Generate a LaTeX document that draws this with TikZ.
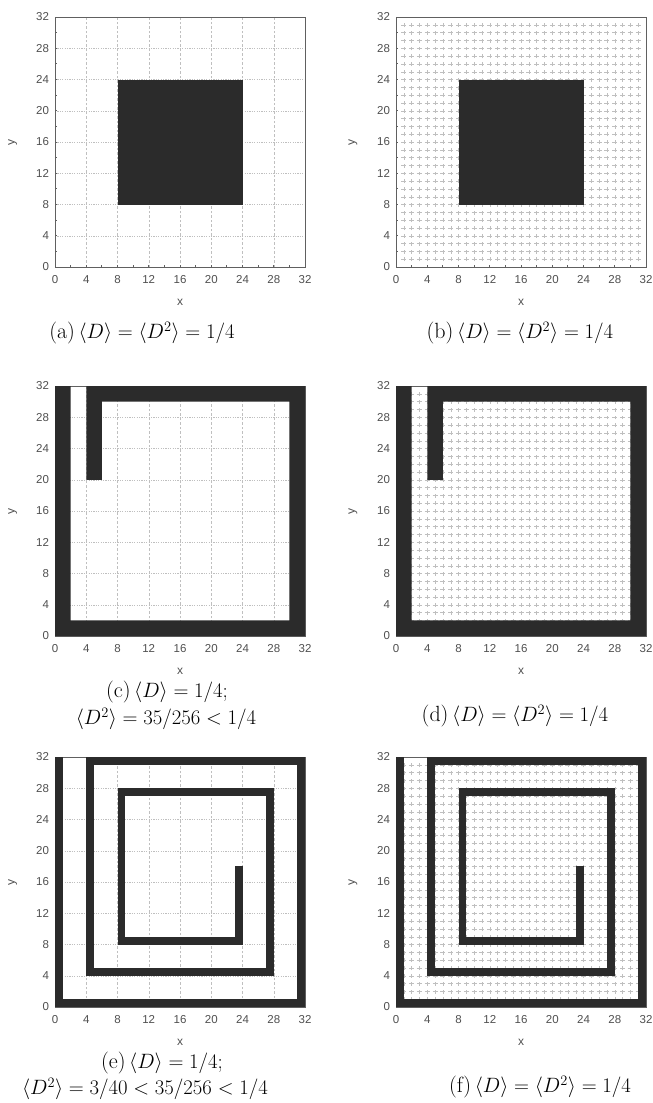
\documentclass[tikz,border=0pt]{standalone}
\usepackage{fontspec}
\newfontfamily\ticksf{Liberation Sans}
\definecolor{wall}{HTML}{2B2B2B}
\definecolor{framec}{HTML}{606060}
\definecolor{tickc}{HTML}{505050}
\tikzset{
  ticklab/.style={font=\ticksf\fontsize{11.5}{13}\selectfont, text=tickc, inner sep=0pt},
  axlab/.style={font=\ticksf\fontsize{12}{13}\selectfont, text=tickc, inner sep=0pt},
  frameline/.style={draw=framec, line width=0.8pt},
  gridv/.style={draw=gray!50, line width=0.45pt, dash pattern=on 2.5pt off 2pt},
  gridh/.style={draw=gray!50, line width=0.45pt, dash pattern=on 1.2pt off 1.2pt},
  fieldmark/.style={draw=gray!50, line width=0.35pt},
  wallfill/.style={fill=wall},
  wallline/.style={draw=wall, line width=7.8125pt, line join=miter, line cap=butt},
  captext/.style={font=\fontsize{22}{26}\selectfont, inner sep=0pt}
}
\newcommand\plotaxes[2]{%
  \draw[frameline] (0,0) rectangle (32,32);
  \foreach \i in {2,4,...,30}{
    \draw[frameline] (\i,0) -- (\i,0.25);
    \draw[frameline] (0,\i) -- (0.25,\i);
  }
  \foreach \i in {0,4,...,32}{
    \node[ticklab, anchor=center] (#1-x\i) at (\i,-1.6) {\i};
    \node[ticklab, anchor=east] (#1-y\i) at (-0.75,\i) {\i};
  }
  \node[axlab] (#1-xl) at (16,-4.5) {x};
  \node[axlab, rotate=90] (#1-yl) at (#2,16) {y};
}
\newcommand\plotgrid{%
  \foreach \i in {4,8,...,28}{
    \draw[gridv] (\i,0) -- (\i,32);
    \draw[gridh] (0,\i) -- (32,\i);
  }
}
\newcommand\plotfield{%
  \draw[fieldmark] \foreach \i in {1,...,31}{ \foreach \j in {1,...,31}{
      (\i-0.32,\j) -- (\i+0.32,\j) (\i,\j-0.28) -- (\i,\j+0.22) } };
}
\newcommand\wallsC{%
  \fill[wallfill] (0,0) -- (32,0) -- (32,32) -- (4,32) -- (4,20) -- (6,20) -- (6,30)
    -- (30,30) -- (30,2) -- (2,2) -- (2,32) -- (0,32) -- cycle;
}
\newcommand\wallsE{%
  \draw[wallline] (0.5,32) -- (0.5,0.5) -- (31.5,0.5) -- (31.5,31.5) -- (4.5,31.5)
    -- (4.5,4.5) -- (27.5,4.5) -- (27.5,27.5) -- (8.5,27.5) -- (8.5,8.5)
    -- (23.5,8.5) -- (23.5,18);
}
\begin{document}
\begin{tikzpicture}[x=1pt,y=-1pt]
\fill[white] (0,0) rectangle (653,1103);
\useasboundingbox (0,0) rectangle (653,1103);

% (a)
\begin{scope}[shift={(55pt,-267pt)}, x=7.8125pt, y=7.8125pt]
  \plotgrid
  \plotaxes{a}{-5.4}
  \fill[wallfill] (8,8) rectangle (24,24);
\end{scope}
% (b)
\begin{scope}[shift={(396pt,-267pt)}, x=7.8125pt, y=7.8125pt]
  \plotfield
  \plotaxes{b}{-5.5}
  \fill[wallfill] (8,8) rectangle (24,24);
\end{scope}
% (c)
\begin{scope}[shift={(55pt,-636pt)}, x=7.8125pt, y=7.8125pt]
  \plotgrid
  \plotaxes{c}{-5.4}
  \wallsC
\end{scope}
% (d)
\begin{scope}[shift={(396pt,-636pt)}, x=7.8125pt, y=7.8125pt]
  \plotfield
  \plotaxes{d}{-5.5}
  \wallsC
\end{scope}
% (e)
\begin{scope}[shift={(55pt,-1007pt)}, x=7.8125pt, y=7.8125pt]
  \plotgrid
  \plotaxes{e}{-5.4}
  \wallsE
\end{scope}
% (f)
\begin{scope}[shift={(396pt,-1007pt)}, x=7.8125pt, y=7.8125pt]
  \plotfield
  \plotaxes{f}{-5.5}
  \wallsE
\end{scope}

% captions
\node[captext] (capa) at (142,333) {(a)\,$\langle D\rangle = \langle D^2\rangle = 1/4$};
\node[captext] (capb) at (520,333) {(b)\,$\langle D\rangle = \langle D^2\rangle = 1/4$};
\node[captext] (capc1) at (167,692) {(c)\,$\langle D\rangle = 1/4;$};
\node[captext] (capc2) at (166,719) {$\langle D^2\rangle = 35/256 < 1/4$};
\node[captext] (capd) at (515,716) {(d)\,$\langle D\rangle = \langle D^2\rangle = 1/4$};
\node[captext] (cape1) at (162,1063) {(e)\,$\langle D\rangle = 1/4;$};
\node[captext] (cape2) at (145,1089) {$\langle D^2\rangle = 3/40 < 35/256 < 1/4$};
\node[captext] (capf) at (540,1087) {(f)\,$\langle D\rangle = \langle D^2\rangle = 1/4$};
\end{tikzpicture}
\end{document}
